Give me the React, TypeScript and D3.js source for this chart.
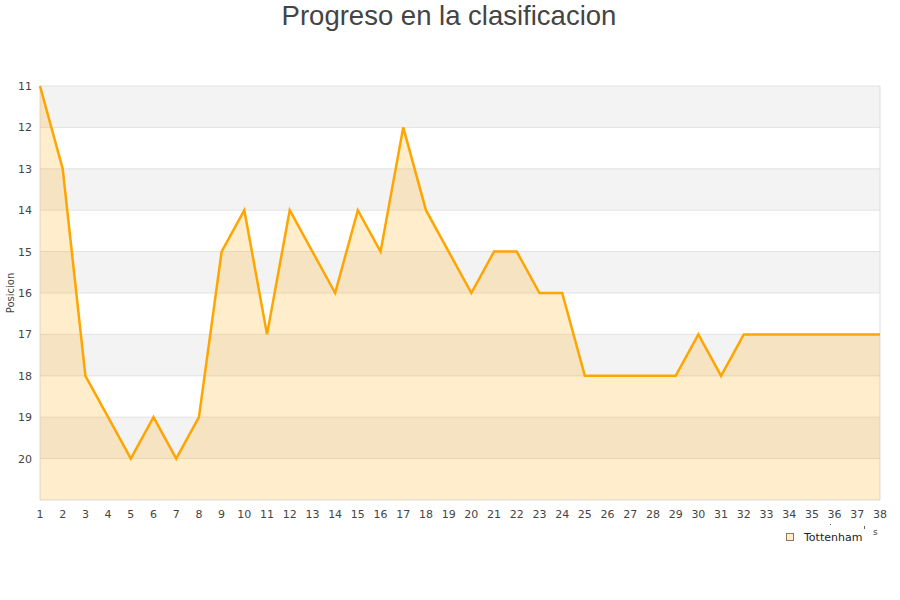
import React from 'react';
import * as d3 from 'd3';

const jornadas = d3.range(1, 39);
const posiciones = [
  11, 13, 18, 19, 20, 19, 20, 19, 15, 14, 17, 14, 15, 16, 14, 15, 12, 14, 15,
  16, 15, 15, 16, 16, 18, 18, 18, 18, 18, 17, 18, 17, 17, 17, 17, 17, 17, 17,
];
const yTicks = [11, 12, 13, 14, 15, 16, 17, 18, 19, 20];
const bandStarts = [11, 13, 15, 17, 19];
const equipo = 'Tottenham';

export default function App() {
  const w = 900;
  const h = 600;
  const left = 40;
  const right = 880;
  const top = 86;
  const bottom = 500;

  const x = d3.scaleLinear().domain([1, 38]).range([left, right]);
  const y = d3.scaleLinear().domain([11, 21]).range([top, bottom]);

  const data = jornadas.map((j, i) => ({ j, p: posiciones[i] }));
  const line = d3
    .line<{ j: number; p: number }>()
    .x((d) => x(d.j))
    .y((d) => y(d.p));
  const area = d3
    .area<{ j: number; p: number }>()
    .x((d) => x(d.j))
    .y0(bottom)
    .y1((d) => y(d.p));

  const font = 'DejaVu Sans, sans-serif';

  return (
    <svg
      width={w}
      height={h}
      style={{ position: 'absolute', left: 0, top: 0, background: '#fff' }}
    >
      <text
        x={449}
        y={25}
        textAnchor="middle"
        fontFamily="Liberation Sans, Arial, sans-serif"
        fontSize={27.5}
        fill="#444"
      >
        Progreso en la clasificacion
      </text>

      {/* bands */}
      {bandStarts.map((b) => (
        <rect
          key={b}
          x={left}
          y={y(b)}
          width={right - left}
          height={y(b + 1) - y(b)}
          fill="#f3f3f3"
        />
      ))}
      {/* grid */}
      {yTicks.map((t) => (
        <line
          key={t}
          x1={left}
          x2={right}
          y1={y(t)}
          y2={y(t)}
          stroke="#e2e2e2"
          strokeWidth={1}
        />
      ))}
      <line x1={left} x2={right} y1={bottom} y2={bottom} stroke="#ddd" />
      <line x1={left} x2={left} y1={top} y2={bottom} stroke="#ddd" />
      <line x1={right} x2={right} y1={top} y2={bottom} stroke="#ddd" />

      <path d={area(data) ?? ''} fill="rgba(255,165,0,0.2)" />
      <path
        d={line(data) ?? ''}
        fill="none"
        stroke="#ffa500"
        strokeWidth={2.5}
        strokeLinejoin="miter"
      />

      {/* y ticks */}
      {yTicks.map((t) => (
        <text
          key={t}
          x={32}
          y={y(t) + 4}
          textAnchor="end"
          fontFamily={font}
          fontSize={11}
          fill="#444"
        >
          {t}
        </text>
      ))}
      {/* x ticks */}
      {jornadas.map((j) => (
        <text
          key={j}
          x={x(j)}
          y={518}
          textAnchor="middle"
          fontFamily={font}
          fontSize={11}
          fill="#444"
        >
          {j}
        </text>
      ))}

      <text
        transform="translate(14,293) rotate(-90)"
        textAnchor="middle"
        fontFamily={font}
        fontSize={10}
        fill="#444"
      >
        Posicion
      </text>

      <text x={873} y={535} fontFamily={font} fontSize={9} fill="#444">
        s
      </text>
      <rect x={830} y={524} width={1} height={1} fill="#666" />
      <rect x={864} y={526} width={1} height={3} fill="#666" />

      {/* legend */}
      <rect
        x={786.5}
        y={533.5}
        width={7}
        height={7}
        fill="#ffedcc"
        stroke="#8a7a5a"
        strokeWidth={1}
      />
      <text x={804} y={541} fontFamily={font} fontSize={11} fill="#222">
        {equipo}
      </text>
    </svg>
  );
}
